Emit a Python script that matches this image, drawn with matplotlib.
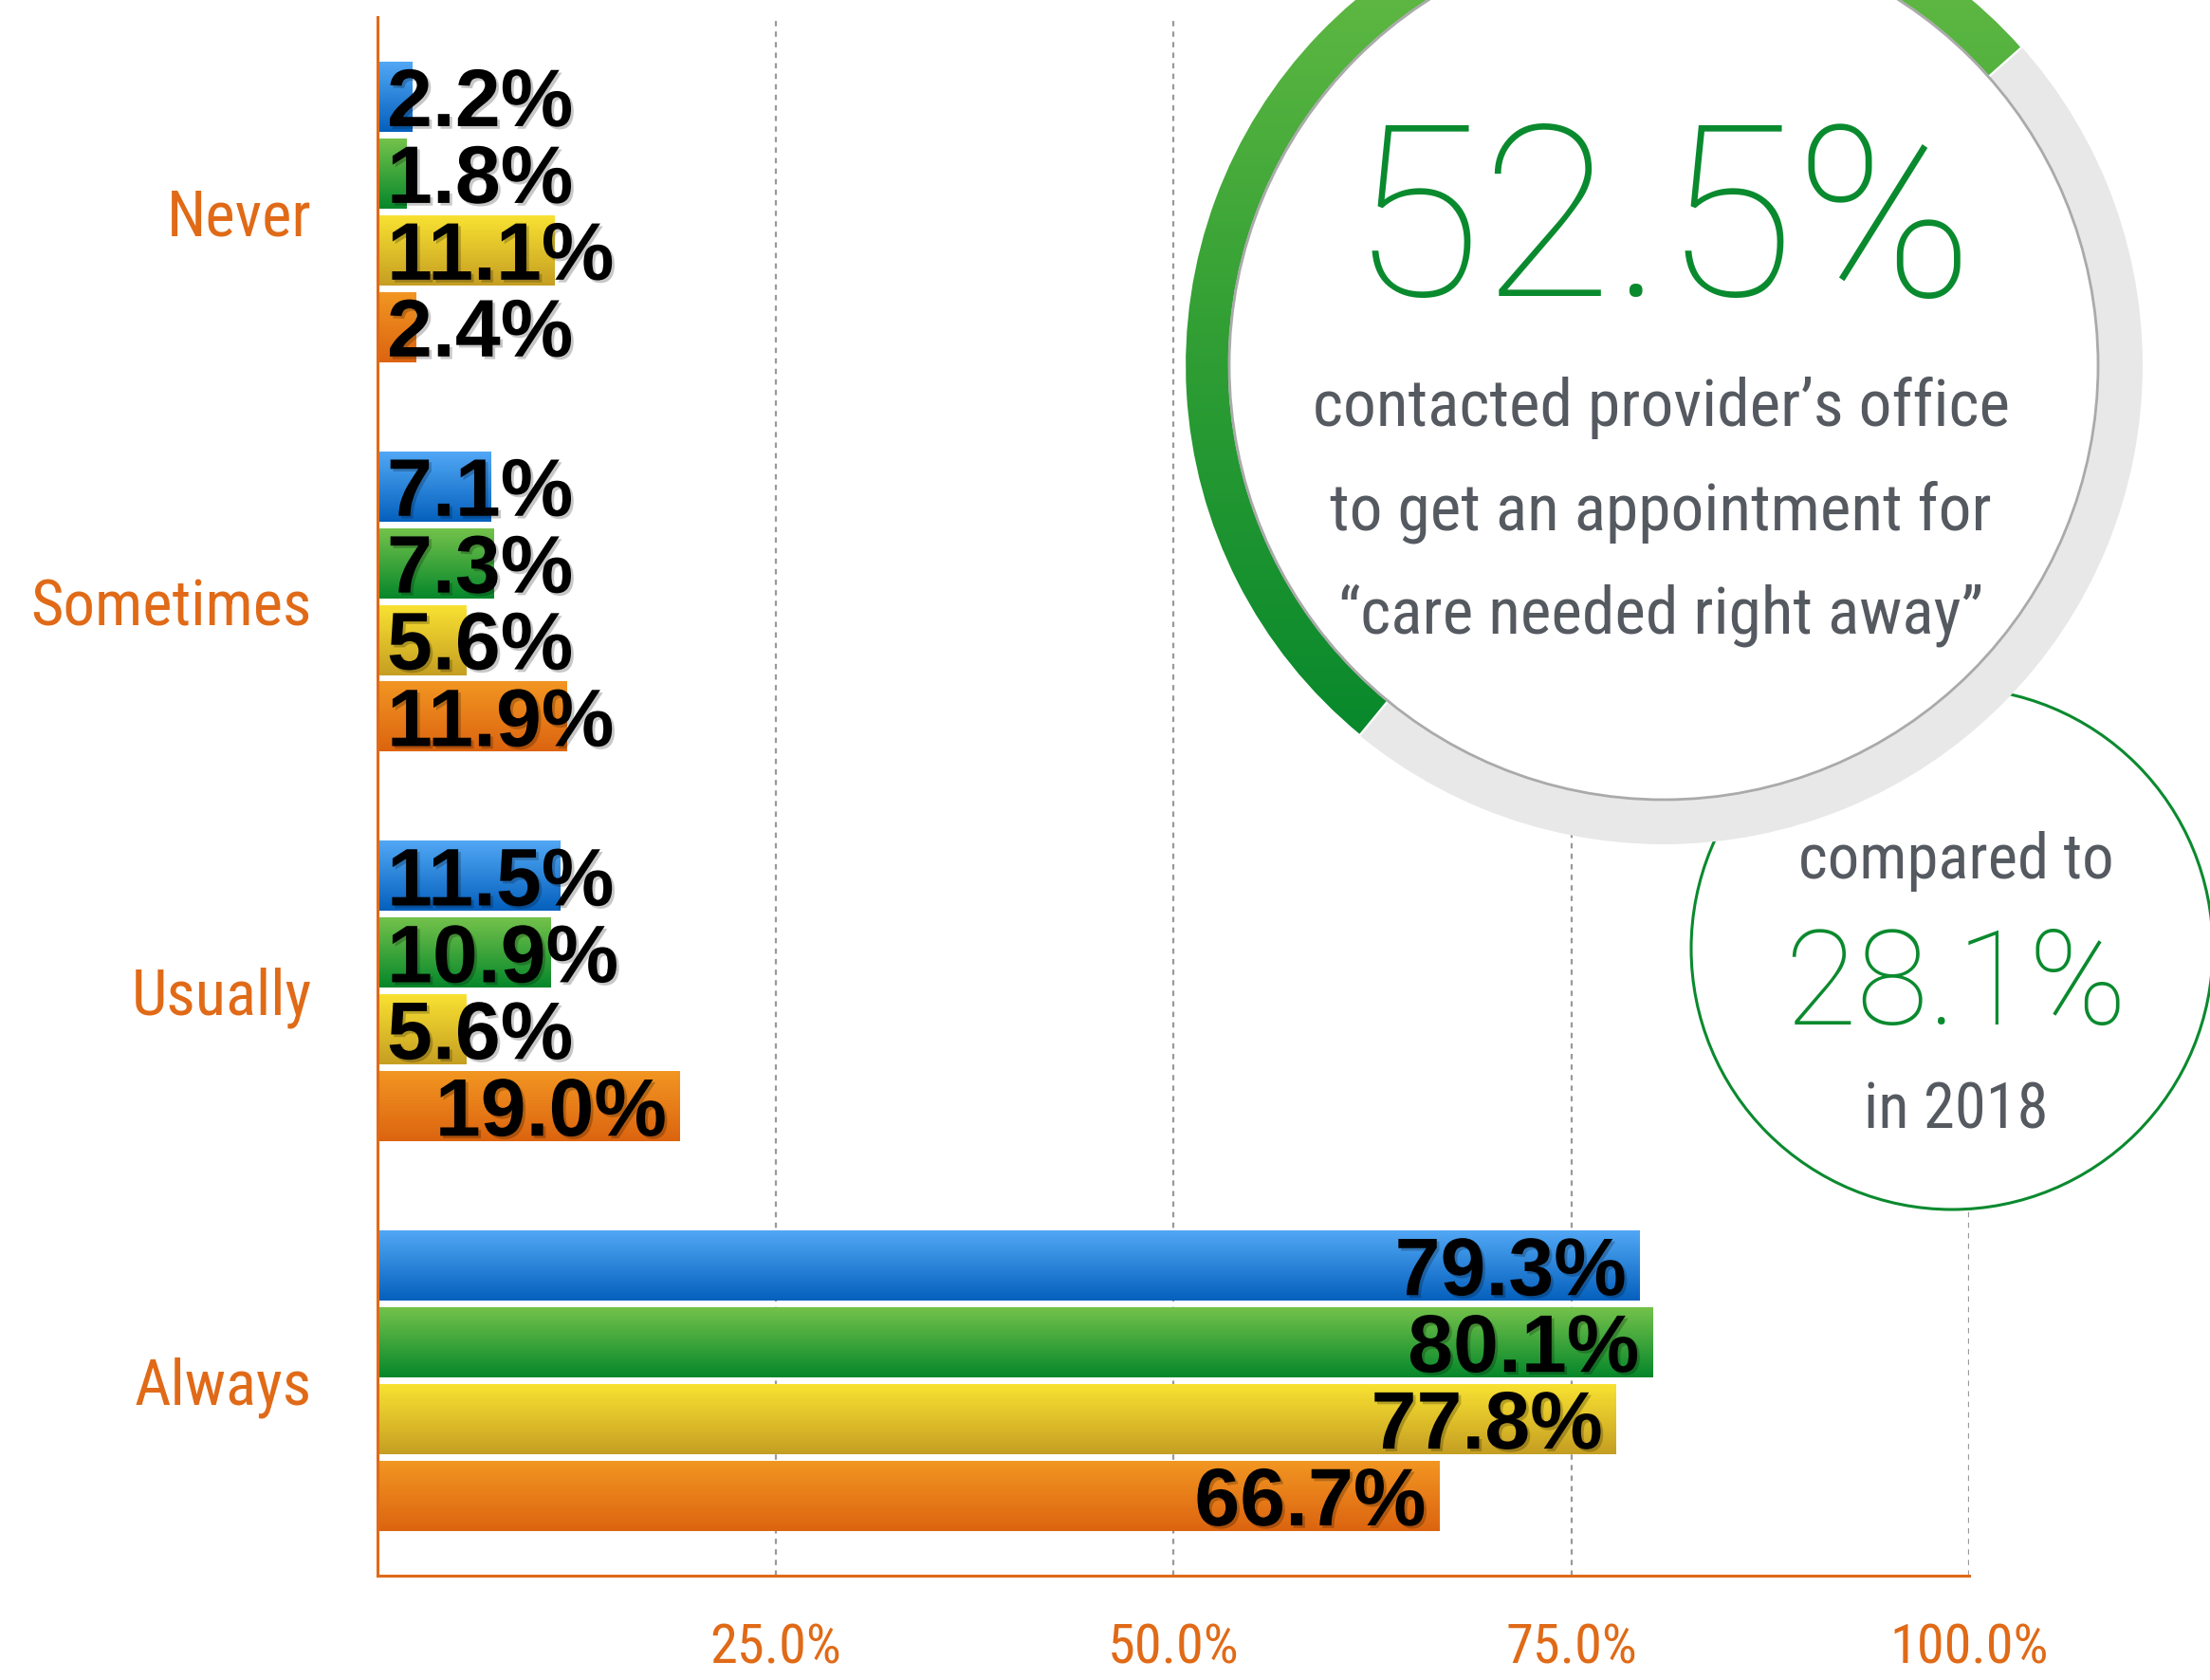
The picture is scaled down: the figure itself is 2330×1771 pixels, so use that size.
import numpy as np
import matplotlib
matplotlib.use("Agg")
import matplotlib.pyplot as plt
import matplotlib.patheffects as pe
from matplotlib import font_manager
from matplotlib.colors import LinearSegmentedColormap
from matplotlib.patches import Wedge, Circle

# Data
categories = ["Never", "Sometimes", "Usually", "Always"]
blue_vals = [2.2, 7.1, 11.5, 79.3]
green_vals = [1.8, 7.3, 10.9, 80.1]
yellow_vals = [11.1, 5.6, 5.6, 77.8]
orange_vals = [2.4, 11.9, 19.0, 66.7]
x_ticks = [25, 50, 75, 100]
x_tick_labels = ["25.0%", "50.0%", "75.0%", "100.0%"]

highlight_value = 52.5
highlight_lines = ["contacted provider\u2019s office", "to get an appointment for",
                   "\u201ccare needed right away\u201d"]
compare_value = 28.1
compare_year = "2018"

# Fonts: pick a condensed face that is installed
available = {f.name for f in font_manager.fontManager.ttflist}
narrow_face = next((n for n in ["Roboto Condensed", "Asap Condensed", "Archivo Narrow"]
                    if n in available), "DejaVu Sans")
NARROW = [narrow_face, "DejaVu Sans"]
LIGHT = ["Roboto", "DejaVu Sans"]
BOLD = ["Liberation Sans", "DejaVu Sans"]
plt.rcParams["font.family"] = NARROW

# Styling
ORANGE = "#e06a17"
GREEN = "#0a8a2e"
GREY_TEXT = "#555960"

series = [blue_vals, green_vals, yellow_vals, orange_vals]
gradients = [("#52a8f5", "#0560bd"), ("#74c24b", "#06872b"),
             ("#f9e232", "#c59e22"), ("#f29622", "#dc6410")]
pitch = 0.197
bar_h = 0.18

W, H = 2330, 1771
fig = plt.figure(figsize=(W / 200, H / 200), dpi=200)
ax = fig.add_axes([398 / W, 1 - 1661 / H, (2076 - 398) / W, (1661 - 18) / H])

grad = np.linspace(0, 1, 256).reshape(-1, 1)
shadow = [pe.withSimplePatchShadow(offset=(1.0, -1.0), shadow_rgbFace="black", alpha=0.22)]
for i, (vals, (top, bot)) in enumerate(zip(series, gradients)):
    cmap = LinearSegmentedColormap.from_list(f"bar{i}", [top, bot])
    for j, v in enumerate(vals):
        yc = j + (i - 1.5) * pitch
        ax.imshow(grad, cmap=cmap, aspect="auto", interpolation="bilinear",
                  extent=(0, v, yc + bar_h / 2, yc - bar_h / 2), zorder=2)
        label = f"{v:.1f}%"
        if v > 16:
            xy, off, ha = (v, yc), (-5, 0), "right"
        else:
            xy, off, ha = (0, yc), (3.6, 0), "left"
        ax.annotate(label, xy=xy, xytext=off, textcoords="offset points",
                    ha=ha, va="center_baseline", fontsize=31, fontweight="bold",
                    family=BOLD, color="black", path_effects=shadow, zorder=5)

ax.set_xlim(0, 100)
ax.set_ylim(3.5, -0.5)
ax.set_xticks(x_ticks)
ax.set_xticklabels(x_tick_labels)
ax.set_yticks(range(len(categories)))
ax.set_yticklabels(categories)
ax.tick_params(axis="x", length=0, pad=18, labelsize=21, labelcolor=ORANGE)
ax.tick_params(axis="y", length=0, pad=25, labelsize=24, labelcolor=ORANGE)
ax.xaxis.grid(True, color="#999999", linestyle=(0, (2.5, 2.5)), linewidth=0.8)
ax.set_axisbelow(True)
for s in ["top", "right"]:
    ax.spines[s].set_visible(False)
for s in ["left", "bottom"]:
    ax.spines[s].set_color(ORANGE)
    ax.spines[s].set_linewidth(1.1)

# Overlay callout circles in pixel coordinates (y up)
ov = fig.add_axes([0, 0, 1, 1])
ov.set_xlim(0, W)
ov.set_ylim(0, H)
ov.axis("off")

# small comparison circle
scx, scy, sr = 2058, H - 1000, 275
ov.add_patch(Circle((scx, scy), sr, facecolor="white", edgecolor=GREEN, lw=1.1, zorder=1))
ov.text(scx + 4, H - 926, "compared to", ha="center", va="baseline", fontsize=24,
        color=GREY_TEXT, family=NARROW, zorder=2)
ov.text(scx + 4, H - 1080, f"{compare_value:.1f}%", ha="center", va="baseline", fontsize=50,
        color=GREEN, family=LIGHT, fontweight="light", zorder=2)
ov.text(scx + 4, H - 1189, f"in {compare_year}", ha="center", va="baseline", fontsize=24,
        color=GREY_TEXT, family=NARROW, zorder=2)

# big donut ring
cx, cy, R, rw = 1754, H - 385, 505, 47
ov.add_patch(Wedge((cx, cy), R, 0, 360, width=rw, facecolor="#e8e8e8", edgecolor="none", zorder=3))
t2 = 230.6
t1 = t2 - highlight_value / 100 * 360
arc = Wedge((cx, cy), R, t1, t2, width=rw, facecolor="none", edgecolor="none")
ov.add_patch(arc)
ring_cmap = LinearSegmentedColormap.from_list("ring", ["#6cbf46", "#33a035", "#07882c"])
img = ov.imshow(grad, cmap=ring_cmap, aspect="auto", interpolation="bilinear",
                extent=(cx - R, cx + R, cy - 0.8 * R, cy + R), zorder=4)
img.set_clip_path(arc)
ov.add_patch(Wedge((cx, cy), R, t1, t2, width=rw, facecolor="none",
                   edgecolor="white", lw=0.8, zorder=5))
ov.add_patch(Circle((cx, cy), R - rw, facecolor="white", edgecolor="#aaaaaa", lw=1.0, zorder=6))

ov.text(1752, H - 312, f"{highlight_value:.1f}%", ha="center", va="baseline", fontsize=91,
        color=GREEN, family=LIGHT, fontweight="light", zorder=7)
for k, line in enumerate(highlight_lines):
    ov.text(1751, H - 449 - k * 109, line, ha="center", va="baseline", fontsize=25,
            color=GREY_TEXT, family=NARROW, zorder=7)
ov.set_xlim(0, W)
ov.set_ylim(0, H)

fig.savefig("out.png", dpi=200)
